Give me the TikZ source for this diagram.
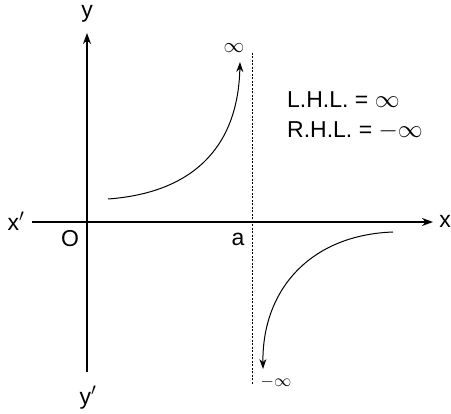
\documentclass[tikz,border=0pt]{standalone}
\usepackage{fontspec}
\setmainfont{Liberation Sans}
\usetikzlibrary{arrows.meta}
\begin{document}
\begin{tikzpicture}[x=1pt,y=-1pt,
  lbl/.style={font=\fontsize{23}{25}\selectfont, inner sep=0pt},
  small/.style={font=\fontsize{17}{18}\selectfont, inner sep=0pt},
  axis/.style={line width=1.3pt,-{Stealth[length=11pt,width=8pt]}},
  crv/.style={line width=1pt,-{Stealth[length=10pt,width=7pt]}}]
\useasboundingbox (0,0) rectangle (451,414);
% axes
\coordinate (xs) at (32,222);
\coordinate (xe) at (433,222);
\coordinate (ys) at (87,372);
\coordinate (ye) at (87,33);
\draw[axis] (xs) -- (xe);
\draw[axis] (ys) -- (ye);
\node[lbl] (xl) at (445,221) {x};
\node[lbl] (xpl) at (16,221) {x$'$};
\node[lbl] (yl) at (87,14) {y};
\node[lbl] (ypl) at (88,398) {y$'$};
\node[lbl] (O) at (70,239) {O};
\node[lbl] (a) at (238,239) {a};
% asymptote
\coordinate (dt) at (252,53);
\coordinate (db) at (252,385);
\draw[dashed, dash pattern=on 2pt off 1.5pt, line width=0.7pt] (dt) -- (db);
% curves
\coordinate (u1) at (108,199);
\coordinate (u2) at (240,62);
\draw[crv] (u1) .. controls (190,193) and (238,150) .. (u2);
\coordinate (l1) at (393,232);
\coordinate (l2) at (263,369);
\draw[crv] (l1) .. controls (310,235) and (262,290) .. (l2);
\node[small, font=\fontsize{20}{22}\selectfont] (inf) at (234,48) {$\infty$};
\node[small] (ninf) at (276,382) {$-\infty$};
\node[lbl, anchor=west] (lhl) at (287,100) {L.H.L. = $\infty$};
\node[lbl, anchor=west] (rhl) at (287,131) {R.H.L. = $-\infty$};
\end{tikzpicture}
\end{document}
